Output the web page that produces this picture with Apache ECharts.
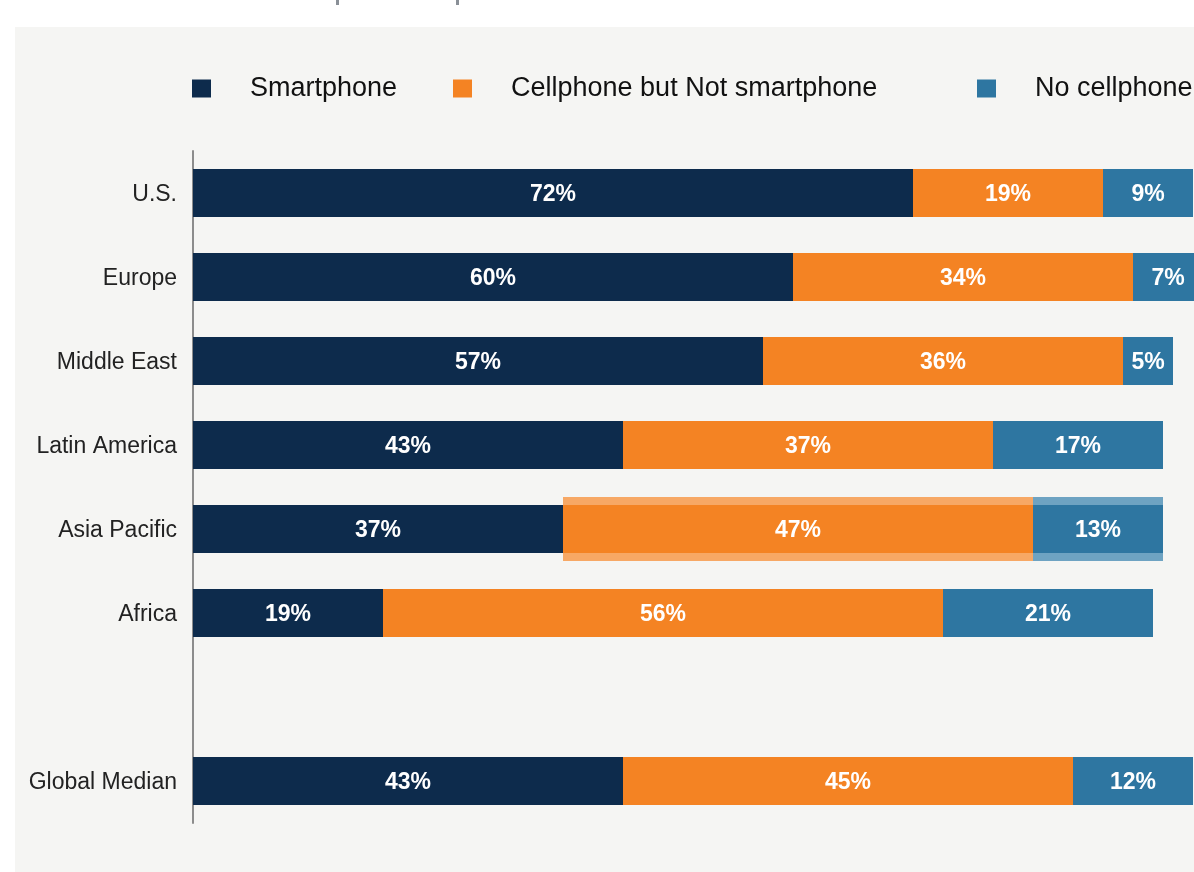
<!DOCTYPE html>
<html>
<head>
<meta charset="utf-8">
<script src="https://cdn.jsdelivr.net/npm/echarts@6/dist/echarts.min.js"></script>
<style>
    html, body { margin: 0; padding: 0; background: #ffffff; }
    #main { width: 1194px; height: 872px; }
</style>
</head>
<body>
<div id="main"></div>
<script>
    // 数据
    var regions = ['U.S.', 'Europe', 'Middle East', 'Latin America', 'Asia Pacific', 'Africa', '', 'Global Median'];
    var smartphone = [72, 60, 57, 43, 37, 19, null, 43];
    var cellphone = [19, 34, 36, 37, 47, 56, null, 45];
    var noCellphone = [9, 7, 5, 17, 13, 21, null, 12];
    var highlightRow = 'Asia Pacific';

    var navy = '#0d2b4c', orange = '#f48323', blue = '#2e76a1';
    var font = '"Liberation Sans", Arial, sans-serif';

    // 高亮那一行
    function onlyRow(arr) {
        return regions.map(function(r, i) { return r === highlightRow ? arr[i] : null; });
    }

    var myChart = echarts.init(document.getElementById('main'));

    var barLabel = {
        show: true,
        position: 'inside',
        offset: [0, 2],
        color: '#ffffff',
        fontFamily: font,
        fontWeight: 'bold',
        fontSize: 23,
        formatter: function(p) { return p.value == null ? '' : p.value + '%'; }
    };

    function legendAt(left, name) {
        return {
            left: left,
            top: 70,
            data: [name],
            icon: 'rect',
            itemWidth: 19,
            itemHeight: 18,
            selectedMode: false,
            textStyle: {
                fontFamily: font,
                fontSize: 27,
                color: '#111111',
                padding: [4, 0, 0, 34]
            }
        };
    }

    var option = {
        backgroundColor: '#ffffff',
        animation: false,
        graphic: [
            { type: 'rect', z: -10, shape: { x: 15, y: 27, width: 1179, height: 845 }, style: { fill: '#f5f5f3' } },
            { type: 'rect', shape: { x: 336, y: 0, width: 3, height: 5 }, style: { fill: '#8a9097' } },
            { type: 'rect', shape: { x: 456, y: 0, width: 3, height: 5 }, style: { fill: '#8a9097' } }
        ],
        legend: [
            legendAt(187, 'Smartphone'),
            legendAt(448, 'Cellphone but Not smartphone'),
            legendAt(972, 'No cellphone')
        ],
        grid: { left: 193, top: 151, width: 1010, height: 672, outerBoundsMode: 'none' },
        xAxis: { type: 'value', min: 0, max: 101, show: false },
        yAxis: [{
            type: 'category',
            data: regions,
            inverse: true,
            axisLine: { show: true, lineStyle: { color: '#8c8c8c', width: 2 } },
            axisTick: { show: false },
            axisLabel: {
                margin: 16,
                formatter: function(v) { return '{n|' + v + '}'; },
                rich: {
                    n: {
                        fontFamily: font,
                        fontSize: 23,
                        color: '#222222',
                        padding: [4, 0, 0, 0]
                    }
                }
            }
        }, {
            type: 'category',
            data: regions,
            inverse: true,
            show: false
        }],
        series: [
            // 背后那层浅色高亮
            { type: 'bar', stack: 'hl', yAxisIndex: 1, barWidth: 64, silent: true,
              itemStyle: { color: 'rgba(0,0,0,0)' }, data: onlyRow(smartphone) },
            { type: 'bar', stack: 'hl', yAxisIndex: 1, barWidth: 64, silent: true,
              itemStyle: { color: '#f7a865' }, data: onlyRow(cellphone) },
            { type: 'bar', stack: 'hl', yAxisIndex: 1, barWidth: 64, silent: true,
              itemStyle: { color: '#6ea3c2' }, data: onlyRow(noCellphone) },

            { name: 'Smartphone', type: 'bar', stack: 'total', barWidth: 48,
              itemStyle: { color: navy }, label: barLabel, data: smartphone },
            { name: 'Cellphone but Not smartphone', type: 'bar', stack: 'total', barWidth: 48,
              itemStyle: { color: orange }, label: barLabel, data: cellphone },
            { name: 'No cellphone', type: 'bar', stack: 'total', barWidth: 48,
              itemStyle: { color: blue }, label: barLabel, data: noCellphone }
        ]
    };

    myChart.setOption(option);
</script>
</body>
</html>
